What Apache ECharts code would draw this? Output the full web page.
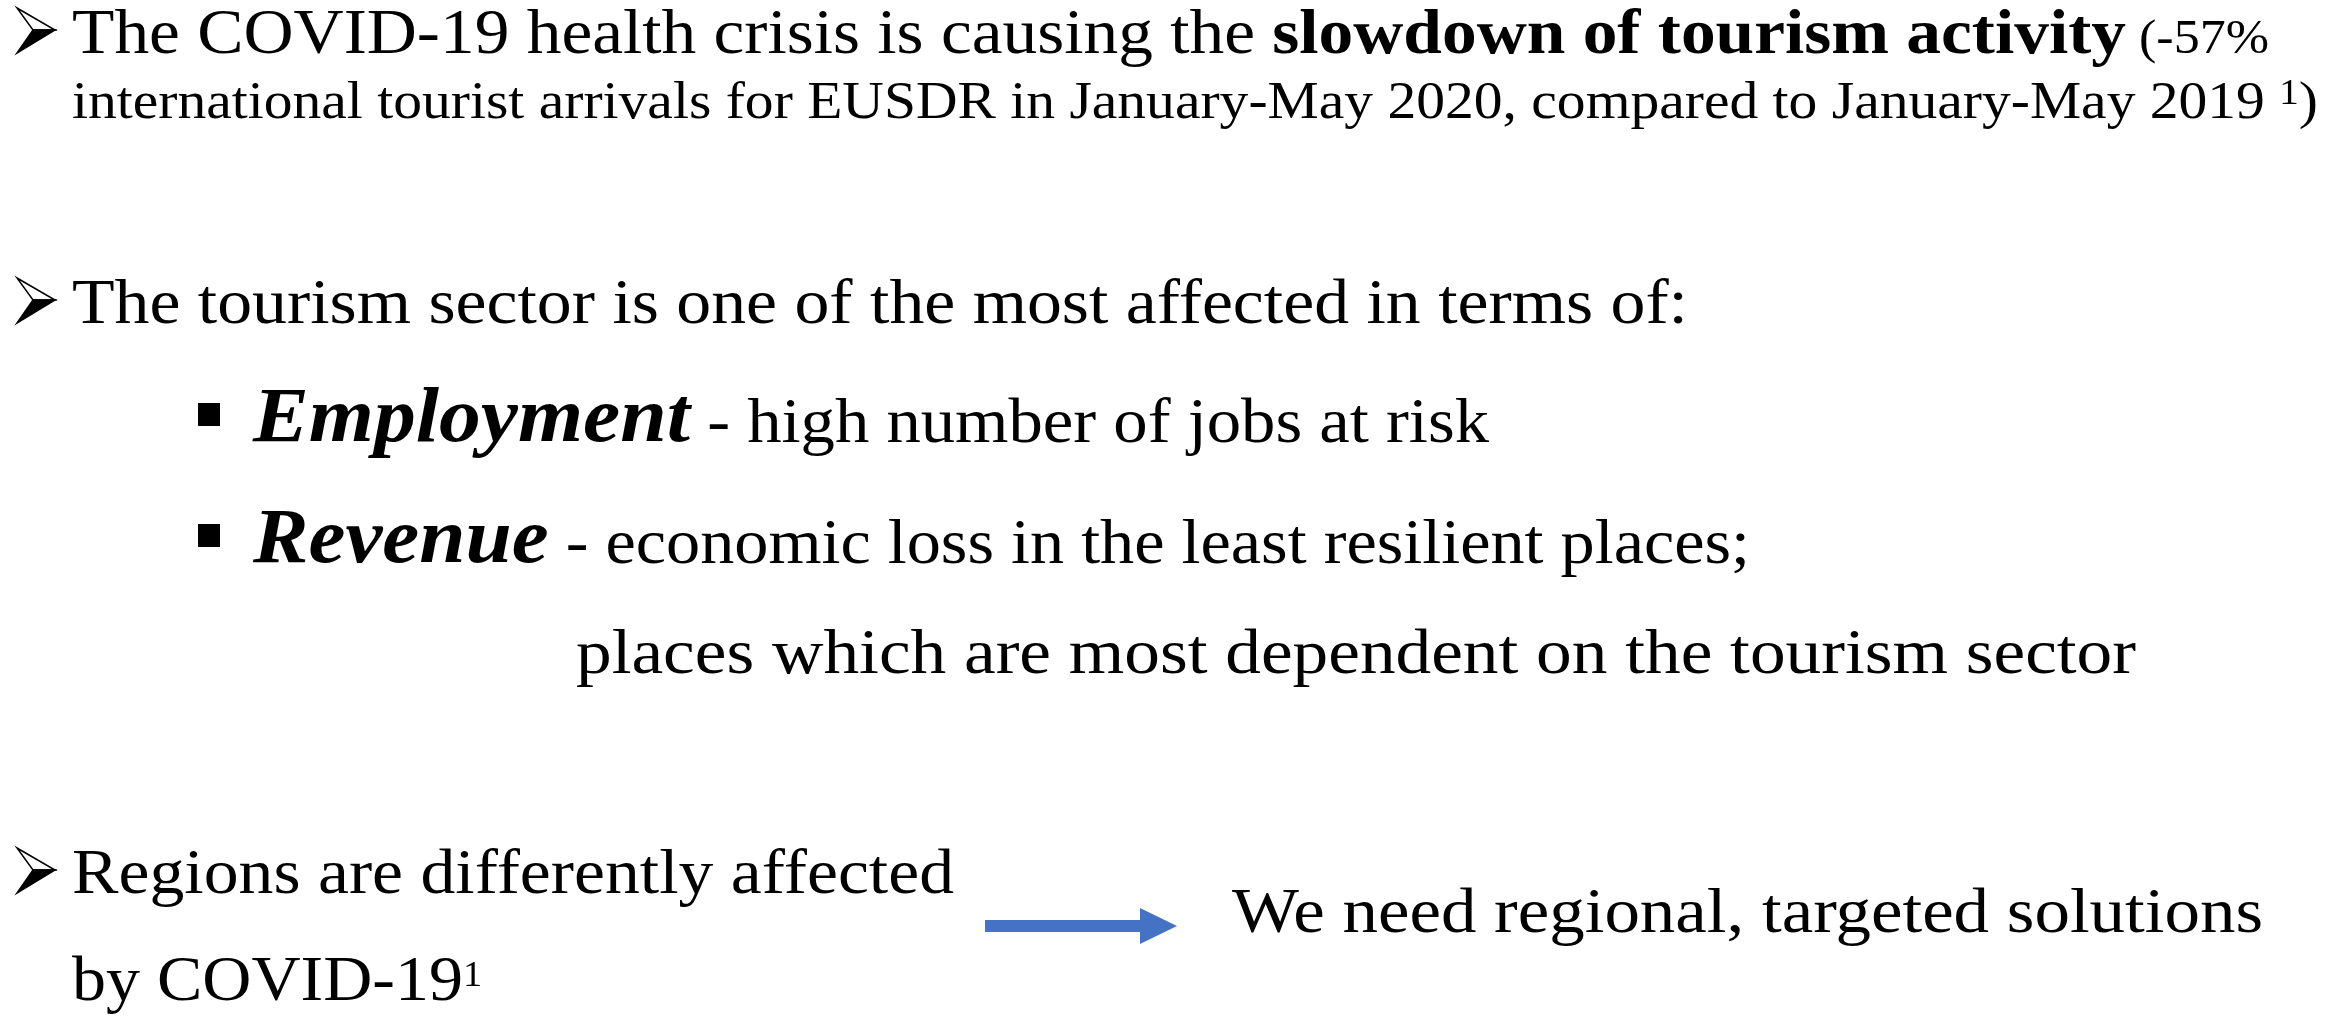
<!DOCTYPE html>
<html>
<head>
<meta charset="utf-8">
<script src="https://cdn.jsdelivr.net/npm/echarts@6/dist/echarts.min.js"></script>
<style>
html, body { margin: 0; padding: 0; background: #fff; }
#main { width: 2346px; height: 1016px; }
</style>
</head>
<body>
<div id="main"></div>
<script>
var FAMILY = '"Liberation Serif", "Times New Roman", serif';

// slide text, one array per line, split where the style changes
var line1 = ['The COVID-19 health crisis is causing the ', 'slowdown of tourism activity', ' (-57%'];
var line2 = ['international tourist arrivals for EUSDR in January-May 2020, compared to January-May 2019 ', '1', ')'];
var line3 = ['The tourism sector is one of the most affected in terms of:'];
var line4 = ['Employment', ' - high number of jobs at risk'];
var line5 = ['Revenue', ' - economic loss in the least resilient places;'];
var line6 = ['places which are most dependent on the tourism sector'];
var line7 = ['Regions are differently affected'];
var line8 = ['by COVID-19', '1'];
var line9 = ['We need regional, targeted solutions'];

// text styles
var KINDS = {
	n:   { size: 64, weight: 'normal', style: 'normal', rise: 0 },
	b:   { size: 64, weight: 'bold',   style: 'normal', rise: 0 },
	s:   { size: 48, weight: 'normal', style: 'normal', rise: 0 },
	m:   { size: 53, weight: 'normal', style: 'normal', rise: 0 },
	sup: { size: 36, weight: 'normal', style: 'normal', rise: 14 },
	bi:  { size: 78, weight: 'bold',   style: 'italic', rise: 0 }
};

// where each line goes on the slide
var rows = [
	{ parts: line1, kinds: ['n', 'b', 's'],   x: 72,   x2: 2269, base: 53,   mark: 'arrow' },
	{ parts: line2, kinds: ['m', 'sup', 'm'], x: 72,   x2: 2318, base: 118 },
	{ parts: line3, kinds: ['n'],             x: 72,   x2: 1688, base: 323,  mark: 'arrow' },
	{ parts: line4, kinds: ['bi', 'n'],       x: 253,  x2: 1489, base: 442,  mark: 'square' },
	{ parts: line5, kinds: ['bi', 'n'],       x: 253,  x2: 1750, base: 563,  mark: 'square' },
	{ parts: line6, kinds: ['n'],             x: 576,  x2: 2136, base: 673 },
	{ parts: line7, kinds: ['n'],             x: 72,   x2: 954,  base: 893,  mark: 'arrow' },
	{ parts: line8, kinds: ['n', 'sup'],      x: 72,   x2: 482,  base: 1000 },
	{ parts: line9, kinds: ['n'],             x: 1232, x2: 2263, base: 932 }
];

var ctx = document.createElement('canvas').getContext('2d');

function fontOf(k) {
	return k.style + ' ' + k.weight + ' ' + k.size + 'px ' + FAMILY;
}
function widthOf(text, k) {
	ctx.font = fontOf(k);
	return ctx.measureText(text).width;
}
// distance from the middle line down to the alphabetic baseline
function midToBase(k) {
	ctx.font = fontOf(k);
	ctx.textBaseline = 'middle';
	var d = ctx.measureText('H').actualBoundingBoxDescent;
	ctx.textBaseline = 'alphabetic';
	return d;
}

// the wingdings style arrowhead in front of the main points
function arrowHead(x, base) {
	var t = base - 45, m = base - 23;
	return [{
		type: 'polygon',
		shape: { points: [[x, t], [x + 38, m], [x + 16, m]] },
		style: { fill: '#fff', stroke: '#000', lineWidth: 1.5 }
	}, {
		type: 'polygon',
		shape: { points: [[x + 16, m], [x + 38, m], [x, base]] },
		style: { fill: '#000', stroke: '#000', lineWidth: 1.5 }
	}];
}

var elements = [];
rows.forEach(function(row) {
	var total = 0;
	row.parts.forEach(function(p, i) { total += widthOf(p, KINDS[row.kinds[i]]); });
	var sx = (row.x2 - row.x) / total;
	var cx = row.x;
	row.parts.forEach(function(p, i) {
		var k = KINDS[row.kinds[i]];
		elements.push({
			type: 'text',
			x: cx,
			y: row.base - k.rise - midToBase(k),
			scaleX: sx,
			style: {
				text: p,
				font: fontOf(k),
				fill: '#000',
				align: 'left',
				verticalAlign: 'middle'
			}
		});
		cx += widthOf(p, k) * sx;
	});
	if (row.mark === 'arrow') {
		elements = elements.concat(arrowHead(17, row.base));
	} else if (row.mark === 'square') {
		elements.push({
			type: 'rect',
			shape: { x: 198, y: row.base - 39, width: 22, height: 23 },
			style: { fill: '#000' }
		});
	}
});

// blue arrow between the last two statements
elements.push({
	type: 'polygon',
	shape: { points: [[985, 920], [1140, 920], [1140, 908], [1177, 926], [1140, 944], [1140, 932], [985, 932]] },
	style: { fill: '#4472C4' }
});

var myChart = echarts.init(document.getElementById('main'));
var option = {
	backgroundColor: '#fff',
	animation: false,
	graphic: { elements: elements }
};
myChart.setOption(option);
</script>
</body>
</html>
